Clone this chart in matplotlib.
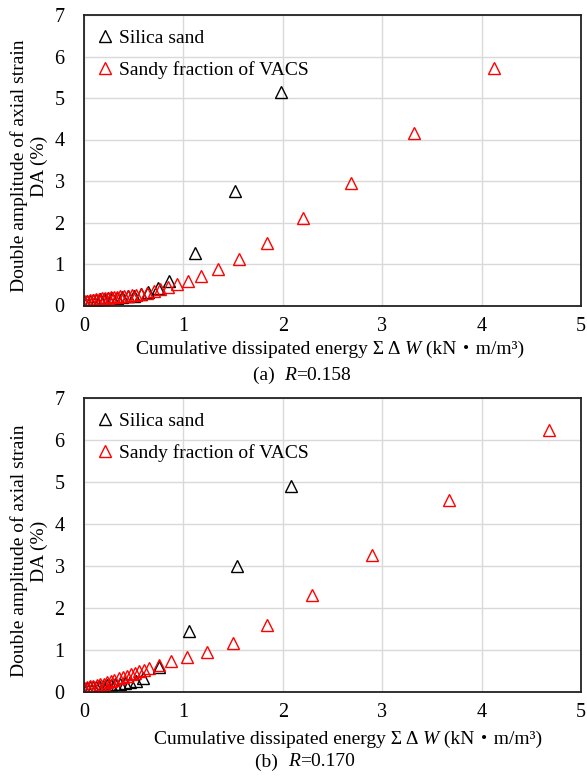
import numpy as np
import matplotlib
matplotlib.use("Agg")
import matplotlib.pyplot as plt

# (a) R=0.158
a_silica_x = [0.0, 0.03, 0.06, 0.09, 0.12, 0.16, 0.20, 0.24, 0.28, 0.33, 0.38, 0.44,
              0.50, 0.57, 0.64, 0.74, 0.86, 1.12, 1.52, 1.98]
a_silica_y = [0.10, 0.11, 0.12, 0.13, 0.14, 0.15, 0.16, 0.17, 0.18, 0.19, 0.20, 0.22,
              0.24, 0.27, 0.32, 0.42, 0.60, 1.27, 2.76, 5.15]
a_vacs_x = [0.0, 0.03, 0.06, 0.09, 0.12, 0.15, 0.18, 0.21, 0.24, 0.27, 0.30, 0.33,
            0.36, 0.40, 0.44, 0.48, 0.52, 0.57, 0.63, 0.70, 0.76, 0.85, 0.94, 1.05,
            1.18, 1.35, 1.56, 1.84, 2.20, 2.685, 3.32, 4.12]
a_vacs_y = [0.10, 0.12, 0.13, 0.14, 0.15, 0.16, 0.17, 0.18, 0.19, 0.20, 0.20, 0.21,
            0.22, 0.23, 0.24, 0.25, 0.26, 0.28, 0.31, 0.35, 0.40, 0.44, 0.52, 0.60,
            0.72, 0.89, 1.13, 1.51, 2.10, 2.96, 4.15, 5.72]

# (b) R=0.170
b_silica_x = [0.0, 0.03, 0.06, 0.09, 0.12, 0.15, 0.19, 0.23, 0.27, 0.31, 0.36, 0.41,
              0.46, 0.52, 0.59, 0.75, 1.06, 1.54, 2.08]
b_silica_y = [0.10, 0.10, 0.11, 0.12, 0.13, 0.14, 0.15, 0.16, 0.17, 0.18, 0.20, 0.22,
              0.24, 0.27, 0.33, 0.60, 1.46, 3.00, 4.90]
b_vacs_x = [0.0, 0.03, 0.06, 0.09, 0.13, 0.16, 0.20, 0.23, 0.27, 0.30, 0.35, 0.39,
            0.43, 0.47, 0.51, 0.55, 0.60, 0.65, 0.75, 0.88, 1.04, 1.24, 1.50, 1.84,
            2.29, 2.90, 3.67, 4.68]
b_vacs_y = [0.10, 0.12, 0.14, 0.15, 0.17, 0.18, 0.20, 0.23, 0.26, 0.29, 0.33, 0.36,
            0.39, 0.42, 0.46, 0.50, 0.53, 0.57, 0.65, 0.73, 0.84, 0.96, 1.16, 1.60,
            2.30, 3.27, 4.57, 6.24]

labels = ["Silica sand", "Sandy fraction of VACS"]
captions = [("(a)  ", "R", "=0.158"), ("(b)  ", "R", "=0.170")]
xticks = [0, 1, 2, 3, 4, 5]
yticks = [0, 1, 2, 3, 4, 5, 6, 7]

FAM = ["Liberation Serif", "Noto Sans CJK JP"]
plt.rcParams["font.family"] = FAM
plt.rcParams["font.size"] = 14

W, H = 587, 778
fig = plt.figure(figsize=(W / 100, H / 100), dpi=100)


def rich_center(pieces, xc, yc):
    # pieces: list of (text, style); centre the whole row at pixel (xc, yc)
    texts = [fig.text(0, yc / H, s, fontstyle=st, family=FAM, fontsize=14,
                      va="center") for s, st in pieces]
    r = fig.canvas.get_renderer()
    widths = [t.get_window_extent(r).width for t in texts]
    x = xc - sum(widths) / 2
    for t, w in zip(texts, widths):
        t.set_x(x / W)
        x += w


def panel(rect, sx, sy, vx, vy, cap, xlab_c, cap_c, bot_px, xlab_off):
    ax = fig.add_axes(rect)
    ax.plot(sx, sy, "^", ls="none", ms=8, mfc="none", mec="black", mew=1.0,
            label=labels[0])
    ax.plot(vx, vy, "^", ls="none", ms=8, mfc="none", mec="red", mew=1.0,
            label=labels[1])
    ax.set_xlim(0, 5)
    ax.set_ylim(0, 7)
    ax.set_xticks(xticks)
    ax.set_yticks(yticks)
    ax.grid(True, color="#d9d9d9", lw=1.0)
    ax.set_axisbelow(True)
    for s in ax.spines.values():
        s.set_color("#222222")
        s.set_linewidth(1.3)
    ax.tick_params(axis="x", length=0, pad=8, labelsize=14.5)
    ax.tick_params(axis="y", length=0, pad=14, labelsize=14.5)
    ax.set_ylabel("Double amplitude of axial strain\nDA (%)", fontsize=14,
                  va="center", linespacing=1.2)
    ax.yaxis.set_label_coords(-0.11, 0.48)
    ax.legend(loc="upper left", frameon=False, fontsize=14, handlelength=0.7,
              handletextpad=0.35, labelspacing=0.72, borderaxespad=0.35,
              bbox_to_anchor=(0.0, 1.0))
    rich_center([("Cumulative dissipated energy Σ Δ ", "normal"), ("W", "italic"),
                 (" (kN・m/m³)", "normal")], xlab_c, H - (bot_px + xlab_off))
    rich_center([(cap[0], "normal"), (cap[1], "italic"), (cap[2], "normal")],
                cap_c, H - (bot_px + 70))
    return ax


panel([84 / W, (H - 305.5) / H, 497 / W, 290.5 / H],
      a_silica_x, a_silica_y, a_vacs_x, a_vacs_y, captions[0], 330, 302, 305.5, 44)
panel([84 / W, (H - 692) / H, 497 / W, 294 / H],
      b_silica_x, b_silica_y, b_vacs_x, b_vacs_y, captions[1], 348, 305, 692, 47)

fig.savefig("out.png", dpi=100)
